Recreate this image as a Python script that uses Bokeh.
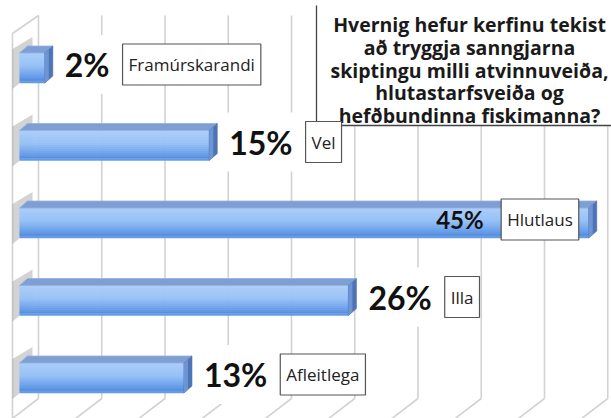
import numpy as np
from bokeh.plotting import figure
from bokeh.models import Range1d, ColumnDataSource
from bokeh.core.properties import value
from bokeh.embed import file_html
from bokeh.resources import INLINE

# ---- data ----
categories = ["Framúrskarandi", "Vel", "Hlutlaus", "Illa", "Afleitlega"]
percent = [2, 15, 45, 26, 13]
grid_values = [0, 5, 10, 15, 20, 25, 30, 35, 40, 45]
title_lines = [
    "Hvernig hefur kerfinu tekist",
    "að tryggja sanngjarna",
    "skiptingu milli atvinnuveiða,",
    "hlutastarfsveiða og",
    "hefðbundinna fiskimanna?",
]

# ---- layout (pixels of the figure canvas) ----
W, H = 611, 418
PX_PER_PCT = 12.65
ROW_PX = 77.5
X0_PX = 19.0     # canvas x of 0 %
Y0_PX = 67.5     # canvas y of first row centre
sx = 1.0 / PX_PER_PCT
sy = 1.0 / ROW_PX


def xd(px):
    return (px - X0_PX) * sx


def yd(px):
    return (px - Y0_PX) * sy


LATO = value("Lato")
OPEN = value("Open Sans")
rows = list(range(len(categories)))

p = figure(width=W, height=H,
           x_range=Range1d(xd(0), xd(W)), y_range=Range1d(yd(H), yd(0)),
           x_axis_location=None, y_axis_location=None,
           output_backend="svg", toolbar_location=None,
           min_border=0, outline_line_color=None)
p.grid.visible = False
p.background_fill_color = "white"
p.border_fill_color = "white"

# ---- 3D back wall grid ----
BACK = 19 * sx
GRID = "#d2d2d2"
gx = [g + BACK for g in grid_values]
p.segment(x0=gx, x1=gx, y0=[yd(15)] * len(gx), y1=[yd(398)] * len(gx),
          line_color=GRID, line_width=1.6)
p.segment(x0=gx, x1=[x - 30 * sx for x in gx], y0=[yd(398)] * len(gx),
          y1=[yd(421)] * len(gx), line_color=GRID, line_width=1.6)
# side wall
p.segment(x0=[xd(12)], x1=[xd(12)], y0=[yd(33)], y1=[yd(H)],
          line_color=GRID, line_width=1.6)
p.segment(x0=[xd(12)], x1=[gx[0]], y0=[yd(33)], y1=[yd(15)],
          line_color=GRID, line_width=1.6)

# ---- shadows on the side wall ----
shx, shy = [], []
for r in rows:
    t = r - 15 * sy
    b = r + 15 * sy
    shx.append([xd(12), xd(32), xd(32), xd(12)])
    shy.append([t - 4 * sy, t - 16 * sy, b - 10 * sy, b + 6 * sy])
p.patches(shx, shy, fill_color="#808080", fill_alpha=0.35, line_color=None)

# ---- bars: gradient front face ----
stops = [(0.0, (172, 206, 250)), (0.45, (150, 192, 245)),
         (0.85, (96, 152, 230)), (0.95, (74, 136, 222)), (1.0, (160, 195, 236))]


def grad(f):
    for (f0, c0), (f1, c1) in zip(stops[:-1], stops[1:]):
        if f0 <= f <= f1:
            k = (f - f0) / (f1 - f0)
            c = [int(round(a + (b_ - a) * k)) for a, b_ in zip(c0, c1)]
            return "#%02x%02x%02x" % tuple(c)
    return "#%02x%02x%02x" % stops[-1][1]


N = 15
BAR_PX = 30.0
for j in range(N):
    f = (j + 0.5) / N
    yc = [r + (-BAR_PX / 2 + (j + 0.5) * BAR_PX / N) * sy for r in rows]
    p.hbar(y=yc, left=0, right=percent, height=(BAR_PX / N + 0.6) * sy,
           fill_color=grad(f), line_color=None)

DX, DY = 8 * sx, 7 * sy
topx, topy, sidex, sidey, side2x, side2y = [], [], [], [], [], []
for r, v in zip(rows, percent):
    t = r - BAR_PX / 2 * sy
    b = r + BAR_PX / 2 * sy
    topx.append([0, v, v + DX, DX])
    topy.append([t, t, t - DY, t - DY])
    sidex.append([v, v + DX, v + DX, v])
    sidey.append([t, t - DY, b - DY, b])
    side2x.append([v, v + DX / 2, v + DX / 2, v])
    side2y.append([t, t - DY / 2, b - DY / 2, b])
p.patches(topx, topy, fill_color="#7f9fd4", line_color="#93b0e0", line_width=0.8)
p.patches(sidex, sidey, fill_color="#4f74b6", line_color="#46699f", line_width=0.6)
p.patches(side2x, side2y, fill_color="#6d95d6", line_color=None)

# ---- title box ----
p.quad(left=[xd(316)], right=[xd(W + 30)], top=[yd(-10)], bottom=[yd(125)],
       fill_color="white", line_color=None)
p.segment(x0=[xd(316)], x1=[xd(316)], y0=[yd(5)], y1=[yd(125)],
          line_color="#444444", line_width=1.3)
p.segment(x0=[xd(316)], x1=[xd(W)], y0=[yd(125)], y1=[yd(125)],
          line_color="#444444", line_width=1.3)
p.text(x=[xd(469)] * len(title_lines),
       y=[yd(24 + 22.75 * i) for i in range(len(title_lines))],
       text=title_lines, text_font=OPEN, text_font_style="bold",
       text_font_size="19.5px", text_color="#1a1a1a",
       text_align="center", text_baseline="middle")

# ---- labels ----
PCT_SIZE = 32
PCT_PAD = 10
BOX_PAD_X, BOX_PAD_Y = 6, 9
BOX_SIZE = 17


def pct_width(s, size):
    return size * (0.58 * (len(s) - 1) + 0.85)


def box_width(s):
    return len(s) * 0.53 * BOX_SIZE + 2 * BOX_PAD_X


out_pct = dict(x=[], y=[], text=[])
in_pct = dict(x=[], y=[], text=[])
box_l = dict(x=[], y=[], text=[])
box_r = dict(x=[], y=[], text=[])
LIFT = 3.5 * sy
for r, v, c in zip(rows, percent, categories):
    s = f"{v}%"
    yl = r - LIFT
    end_px = X0_PX + v * PX_PER_PCT
    if end_px + 20 + pct_width(s, PCT_SIZE) + 12 + box_width(c) < W:
        x_txt = v + (20 - PCT_PAD) * sx
        out_pct["x"].append(x_txt); out_pct["y"].append(yl); out_pct["text"].append(s)
        bl = v + (20 + pct_width(s, PCT_SIZE) + 12) * sx
        box_l["x"].append(bl); box_l["y"].append(yl); box_l["text"].append(c)
    else:
        br = v - 10 * sx
        box_r["x"].append(br); box_r["y"].append(yl); box_r["text"].append(c)
        in_pct["x"].append(br - (box_width(c) + 11) * sx)
        in_pct["y"].append(yl); in_pct["text"].append(s)

p.text(x="x", y="y", text="text", source=ColumnDataSource(out_pct),
       text_font=LATO, text_font_style="bold", text_font_size=f"{PCT_SIZE}px",
       text_color="#111111", text_align="left", text_baseline="middle",
       background_fill_color="white", padding=PCT_PAD)
p.text(x="x", y="y", text="text", source=ColumnDataSource(in_pct),
       text_font=LATO, text_font_style="bold", text_font_size="24px",
       text_color="#111111", text_align="right", text_baseline="middle")
for src, align in ((box_l, "left"), (box_r, "right")):
    p.text(x="x", y="y", text="text", source=ColumnDataSource(src),
           text_font=OPEN, text_font_size=f"{BOX_SIZE}px", text_color="#222222",
           text_align=align, text_baseline="middle",
           background_fill_color="white", border_line_color="#555555",
           border_line_width=1.2,
           padding=dict(left=BOX_PAD_X, right=BOX_PAD_X,
                        top=BOX_PAD_Y, bottom=BOX_PAD_Y))

open("out.html", "w").write(file_html(p, INLINE))
